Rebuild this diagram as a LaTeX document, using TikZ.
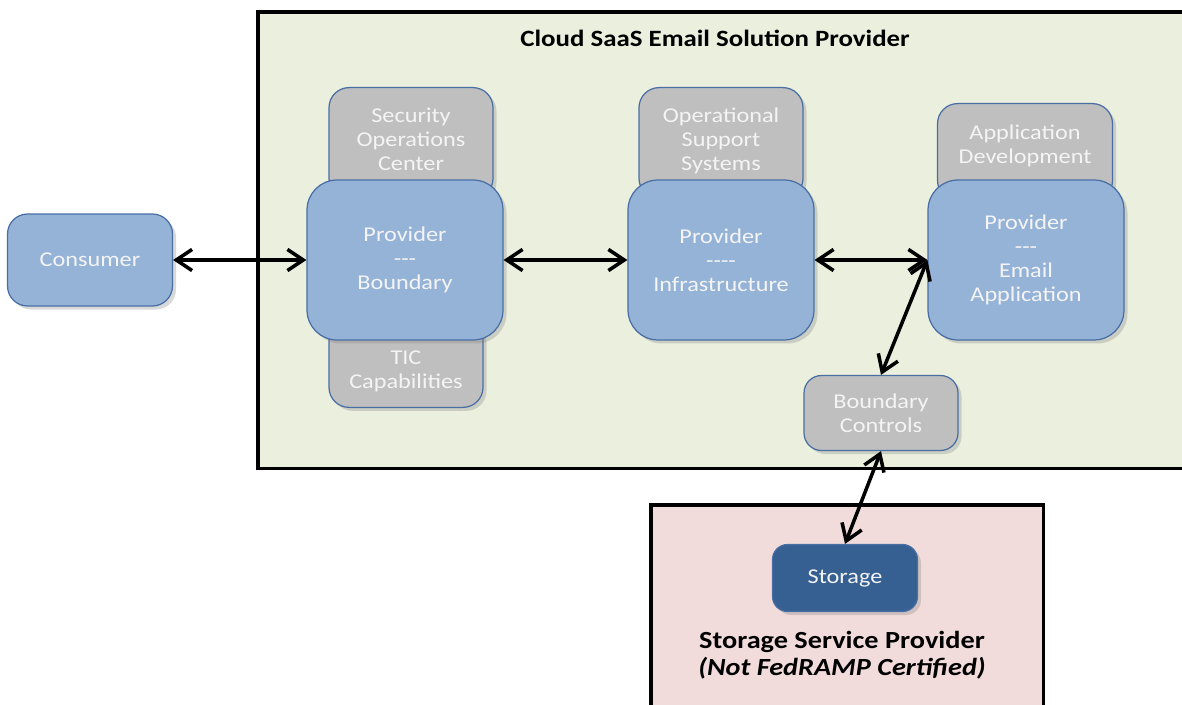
\documentclass[tikz,border=0pt]{standalone}
\usepackage{fontspec}
\setmainfont{Carlito}[FakeStretch=1.15]
\usetikzlibrary{arrows.meta, positioning, shadows}
\definecolor{zoneGreen}{RGB}{235, 239, 222}
\definecolor{zonePink}{RGB}{242, 220, 219}
\definecolor{boxBlue}{RGB}{149, 179, 215}
\definecolor{boxGray}{RGB}{191, 191, 191}
\definecolor{boxEdge}{RGB}{72, 110, 165}
\definecolor{storeBlue}{RGB}{54, 96, 146}
\definecolor{textLight}{RGB}{244, 244, 244}

\begin{document}
\begin{tikzpicture}[
    x=0.02cm, y=-0.02cm,
    zone/.style={rectangle, draw=black, line width=2pt, anchor=north west},
    base/.style={rectangle, draw=boxEdge, line width=0.7pt, text=textLight, align=center, font=\fontsize{12}{13.7}\selectfont, drop shadow={shadow xshift=2pt, shadow yshift=-2pt, opacity=0.3}},
    mainbox/.style={base, fill=boxBlue, rounded corners=0.6cm, minimum width=3.92cm, minimum height=3.2cm},
    sidebox/.style={base, fill=boxGray, rounded corners=0.4cm, inner sep=0pt},
    link/.style={{Straight Barb[length=9pt, width=12pt]}-{Straight Barb[length=9pt, width=12pt]}, line width=2pt, draw=black}
  ]
    \useasboundingbox (0,0) rectangle (1182,705);

    % Provider zones
    \node[zone, fill=zoneGreen, minimum width=19.2cm, minimum height=9.14cm] (cloud) at (256,10) {};
    \node[font=\fontsize{13.3}{15}\selectfont\bfseries] (cloudTitle) at (715,38) {Cloud SaaS Email Solution Provider};
    \node[zone, fill=zonePink, minimum width=7.86cm, minimum height=5cm] (ssp) at (649,503) {};

    % Supporting services (behind the provider boxes)
    \node[sidebox, anchor=north, minimum width=3.28cm, text height=1.66cm, text depth=0.56cm] (soc) at (411,87) {Security\\Operations\\Center};
    \node[sidebox, anchor=north, minimum width=3.28cm, text height=1.66cm, text depth=0.56cm] (oss) at (721,87) {Operational\\Support\\Systems};
    \node[sidebox, anchor=north, minimum width=3.5cm, text height=1.2cm, text depth=0.74cm] (appdev) at (1025,103) {Application\\Development};
    \node[sidebox, anchor=south, minimum width=3.08cm, text height=1.38cm, text depth=0.38cm] (tic) at (406,408) {TIC\\Capabilities};

    % Provider boxes
    \node[mainbox] (boundary) at (405,260) {Provider\\-{}-{}-\\Boundary};
    \node[mainbox, minimum width=3.72cm] (infra) at (721,260) {Provider\\-{}-{}-{}-\\Infrastructure};
    \node[mainbox] (email) at (1026,260) {Provider\\-{}-{}-\\Email\\Application};

    \node[base, fill=boxBlue, rounded corners=0.4cm, minimum width=3.3cm, minimum height=1.84cm] (consumer) at (90,260) {Consumer};
    \node[sidebox, rounded corners=0.35cm, minimum width=3.08cm, minimum height=1.5cm] (bc) at (881,413) {Boundary\\Controls};

    % Storage provider
    \node[base, fill=storeBlue, rounded corners=0.3cm, minimum width=2.9cm, minimum height=1.34cm] (storage) at (845,578) {Storage};
    \node[font=\fontsize{14}{15.4}\selectfont\bfseries, align=center] (sspLabel) at (842,655) {Storage Service Provider\\\textit{(Not FedRAMP Certified)}};

    % Connectors
    \draw[link] (consumer.east) -- (boundary.west);
    \draw[link] (boundary.east) -- (infra.west);
    \draw[link] (infra.east) -- (email.west);
    \draw[link] (bc.north) -- (email.west);
    \draw[link] (storage.north) -- (bc.south);
\end{tikzpicture}
\end{document}
